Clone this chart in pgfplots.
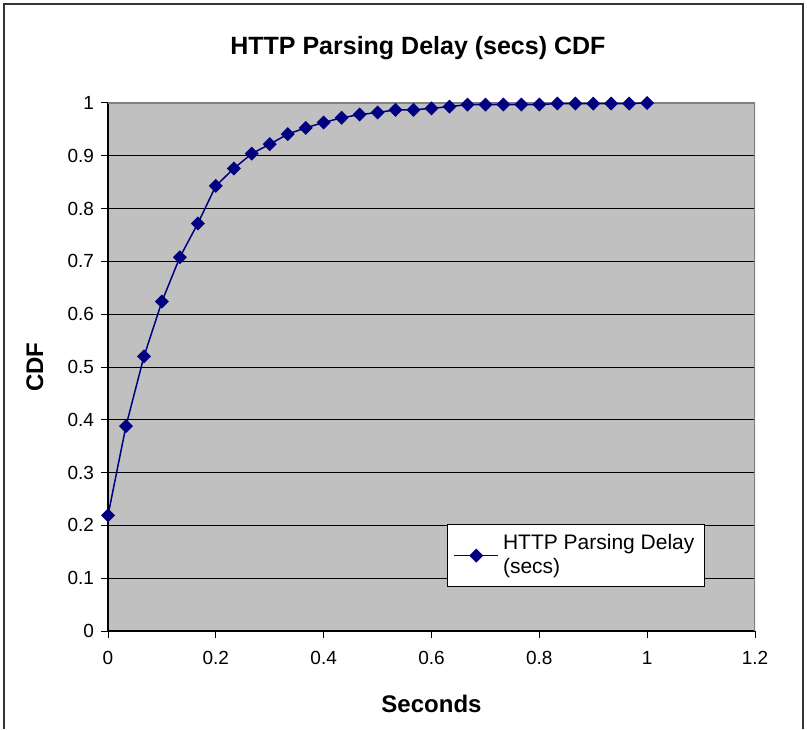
\documentclass[border=0pt]{standalone}
\usepackage{pgfplots}
\pgfplotsset{compat=1.18}
\usepackage{fontspec}
\setmainfont{Liberation Sans}

\definecolor{navy}{HTML}{000080}
\definecolor{plotbg}{HTML}{C0C0C0}
\definecolor{frame}{HTML}{808080}

\begin{document}
\begin{tikzpicture}
% page = 807 x 729 px at 0.5pt per px; axis corner at px (108,631)
\useasboundingbox (-54pt,-49pt) rectangle (349.5pt,315.5pt);
\begin{axis}[
  scale only axis,
  width=323.5pt, height=264pt,
  xmin=0, xmax=1.2, ymin=0, ymax=1,
  xtick={0,0.2,...,1.2}, ytick={0,0.1,...,1},
  axis lines*=left,
  axis line style={-, black, line width=0.6pt},
  axis background/.style={fill=plotbg},
  tick align=outside,
  major tick length=3.5pt,
  tick style={black, line width=0.5pt},
  ymajorgrids,
  major grid style={black, line width=0.5pt},
  /pgf/number format/assume math mode=true,
  ticklabel style={font=\fontsize{9.5}{11}\selectfont},
  xticklabel style={yshift=-3pt},
  title={HTTP Parsing Delay (secs) CDF},
  title style={font=\fontsize{12.5}{14}\selectfont\bfseries, at={(axis description cs:0.479,1.082)}, anchor=center},
  xlabel={Seconds},
  xlabel style={font=\fontsize{12}{14}\selectfont\bfseries, at={(axis description cs:0.5,-0.138)}, anchor=center},
  ylabel={CDF},
  ylabel style={font=\fontsize{12}{14}\selectfont\bfseries, at={(axis description cs:-0.113,0.5)}, anchor=center},
  legend style={at={(axis description cs:0.524,0.2027)}, anchor=north west,
    draw=black, fill=white, line width=0.5pt,
    font=\fontsize{10.5}{12}\selectfont, cells={align=left},
    inner xsep=3pt, inner ysep=3pt},
  legend cell align=left,
  legend image code/.code={
    \draw[mark repeat=2, mark phase=2] plot coordinates {(0pt,0pt) (11pt,0pt) (22pt,0pt)};},
]
\draw[frame, line width=0.6pt] (rel axis cs:0,1) -- (rel axis cs:1,1) -- (rel axis cs:1,0);
\addplot[navy, line width=0.75pt, mark=square*, mark size=2.1pt,
  mark options={rotate=45, fill=navy, draw=navy}]
  coordinates {
  (0,0.219) (0.0333,0.388) (0.0667,0.520) (0.1,0.624) (0.1333,0.708)
  (0.1667,0.772) (0.2,0.843) (0.2333,0.876) (0.2667,0.904) (0.3,0.922)
  (0.3333,0.941) (0.3667,0.953) (0.4,0.963) (0.4333,0.972) (0.4667,0.978)
  (0.5,0.982) (0.5333,0.987) (0.5667,0.987) (0.6,0.990) (0.6333,0.993)
  (0.6667,0.997) (0.7,0.997) (0.7333,0.997) (0.7667,0.997) (0.8,0.997)
  (0.8333,0.999) (0.8667,0.999) (0.9,0.999) (0.9333,0.999) (0.9667,0.999)
  (1.0,1.0)
  };
\addlegendentry{HTTP Parsing Delay\\(secs)}
\end{axis}
\draw[black!80, line width=0.6pt] (-52pt,-49pt) -- (-52pt,313.5pt) -- (347.5pt,313.5pt) -- (347.5pt,-49pt);
\end{tikzpicture}
\end{document}
